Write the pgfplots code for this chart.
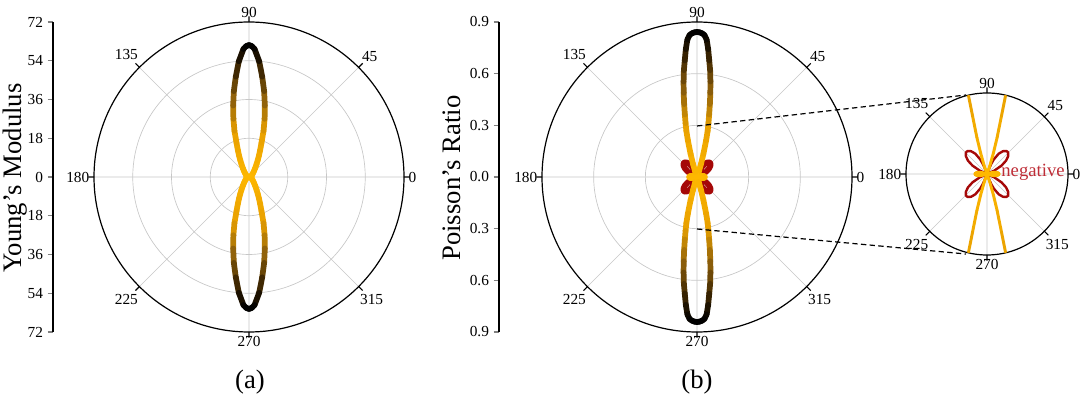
\documentclass[border=0pt]{standalone}
\usepackage{fontspec}
\setmainfont{Liberation Serif}
\usepackage{pgfplots}
\pgfplotsset{compat=1.18}
\usepgfplotslibrary{polar}
\usepackage{pgfplotstable}

\definecolor{negred}{RGB}{165,8,8}
\definecolor{negtext}{RGB}{190,45,55}
\pgfplotsset{colormap={brk}{rgb255(0cm)=(255,185,0); rgb255(3.7cm)=(232,160,0); rgb255(6.2cm)=(140,95,10); rgb255(8.6cm)=(50,30,0); rgb255(10cm)=(0,0,0)}}

\newcommand\tickfont{\fontsize{11.5}{13}\selectfont}
\newcommand\labfont{\fontsize{20}{24}\selectfont}

% Young's modulus, first quadrant (angle, value)
\pgfplotstableread{
t r
0 0.900
5 0.912
10 0.948
15 1.012
20 1.110
25 1.252
30 1.454
35 1.740
40 2.149
45 2.745
50 3.632
55 4.989
60 7.118
62.5 8.800
65 10.900
67.5 13.600
70 17.000
72.5 22.500
75 28.000
77.5 34.000
80 40.500
82.5 47.000
85 54.000
87.5 59.500
88.75 60.800
90 61.300
}\Etab

% Poisson's ratio, first quadrant: small positive part
\pgfplotstableread{
t r
0 0.045
5 0.043
10 0.036
15 0.024
20 0.009
22.5 0.000
}\Pone

% Poisson's ratio, negative part
\pgfplotstableread{
t r
22.5 0.000
25 -0.030
30 -0.062
35 -0.086
40 -0.102
45 -0.111
47.5 -0.112
50 -0.111
55 -0.103
60 -0.087
65 -0.060
67 -0.042
68 -0.028
69 0.000
}\Nneg

% Poisson's ratio, main positive lobe
\pgfplotstableread{
t r
69 0.000
71 0.030
73 0.080
74.5 0.140
76 0.220
77 0.275
78 0.320
79 0.370
80 0.430
81 0.495
82 0.560
83 0.625
84 0.680
85 0.745
86 0.800
87 0.825
88 0.835
89 0.840
90 0.842
}\Ptwo

% Poisson's ratio, main lobe inside the inset (up to 0.3)
\pgfplotstableread{
t r
69 0.000
71 0.030
73 0.080
74.5 0.140
76 0.220
76.7 0.300
}\Ptwoin

\newcommand\fourfold[2]{%
  \addplot[#1] table[x expr=\thisrow{t}, y expr={abs(\thisrow{r})}] {#2};
  \addplot[#1] table[x expr=180-\thisrow{t}, y expr={abs(\thisrow{r})}] {#2};
  \addplot[#1] table[x expr=180+\thisrow{t}, y expr={abs(\thisrow{r})}] {#2};
  \addplot[#1] table[x expr=360-\thisrow{t}, y expr={abs(\thisrow{r})}] {#2};
}

\pgfplotsset{
  mypolar/.style={
    anchor=center, scale only axis,
    xtick={0,45,...,315},
    ytick style={draw=none},
    yticklabels={},
    grid=major,
    major grid style={draw=black!22, line width=0.5pt},
    axis line style={black, line width=0.9pt},
    y axis line style={draw=none},
    xtick style={black, line width=0.8pt},
    xticklabel style={font=\tickfont},
    /pgf/number format/assume math mode=true,
    colormap name=brk,
    point meta min=0,
  },
  myleft/.style={
    anchor=west, scale only axis, width=1pt, height=232.5pt,
    xmin=0, xmax=1,
    axis y line*=left, axis x line=none, xtick=\empty,
    tick align=outside, major tick length=4pt,
    yticklabel style={font=\tickfont},
    y axis line style={line width=1pt},
    ytick style={line width=0.8pt},
    /pgf/number format/assume math mode=true,
  },
}

\begin{document}
\begin{tikzpicture}
\def\u{0.75pt}
\useasboundingbox (0,0) rectangle (810pt,296.25pt);
\coordinate (ca) at ({249*\u},{218*\u});
\coordinate (cb) at ({697*\u},{218*\u});
\coordinate (ci) at ({987*\u},{221*\u});
\coordinate (la) at ({53*\u},{218*\u});
\coordinate (lb) at ({499*\u},{218*\u});

% ---------- panel (a)
\begin{axis}[myleft, at={(la)},
  ymin=-72, ymax=72,
  ytick={-72,-54,-36,-18,0,18,36,54,72},
  yticklabels={72,54,36,18,0,18,36,54,72}]
\end{axis}

\begin{polaraxis}[mypolar, at={(ca)}, width=232.5pt, height=232.5pt,
  ymin=0, ymax=72, ytick={18,36,54}, point meta max=61.3]
\fourfold{mesh, point meta={abs(\thisrow{r})}, line width=4.3pt, line cap=round}{\Etab}
\end{polaraxis}

% ---------- panel (b)
\begin{axis}[myleft, at={(lb)},
  ymin=-0.9, ymax=0.9,
  ytick={-0.9,-0.6,-0.3,0,0.3,0.6,0.9},
  yticklabels={0.9,0.6,0.3,0.0,0.3,0.6,0.9}]
\end{axis}

\begin{polaraxis}[mypolar, at={(cb)}, width=232.5pt, height=232.5pt,
  ymin=0, ymax=0.9, ytick={0.3,0.6}, point meta max=0.842]
\fourfold{negred, line width=4.3pt, line cap=round, line join=round}{\Nneg}
\fourfold{mesh, point meta={abs(\thisrow{r})}, line width=4.3pt, line cap=round}{\Pone}
\fourfold{mesh, point meta={abs(\thisrow{r})}, line width=4.3pt, line cap=round}{\Ptwo}
\end{polaraxis}

% ---------- inset
\draw[line width=0.9pt, dash pattern=on 4pt off 2.5pt] ({697*\u},{269*\u}) -- ({966*\u},{300*\u});
\draw[line width=0.9pt, dash pattern=on 4pt off 2.5pt] ({697*\u},{166*\u}) -- ({966*\u},{141*\u});

\begin{polaraxis}[mypolar, at={(ci)}, width=121.5pt, height=121.5pt,
  ymin=0, ymax=0.3, ytick=\empty, point meta max=0.842]
\fourfold{negred, line width=1.8pt, line cap=round, line join=round}{\Nneg}
\fourfold{mesh, point meta={abs(\thisrow{r})}, line width=2.2pt, line cap=round}{\Pone}
\fourfold{mesh, point meta={abs(\thisrow{r})}, line width=2.2pt, line cap=round}{\Ptwoin}
\end{polaraxis}

% ---------- labels
\node[font=\labfont, rotate=90] at ({15*\u},{217*\u}) {Young’s Modulus};
\node[font=\labfont, rotate=90] at ({452*\u},{217*\u}) {Poisson’s Ratio};
\node[font=\labfont] at ({250*\u},{13*\u}) {(a)};
\node[font=\labfont] at ({697*\u},{13*\u}) {(b)};
\node[font=\fontsize{14}{16}\selectfont, text=negtext] at ({1033*\u},{223*\u}) {negative};
\end{tikzpicture}
\end{document}
